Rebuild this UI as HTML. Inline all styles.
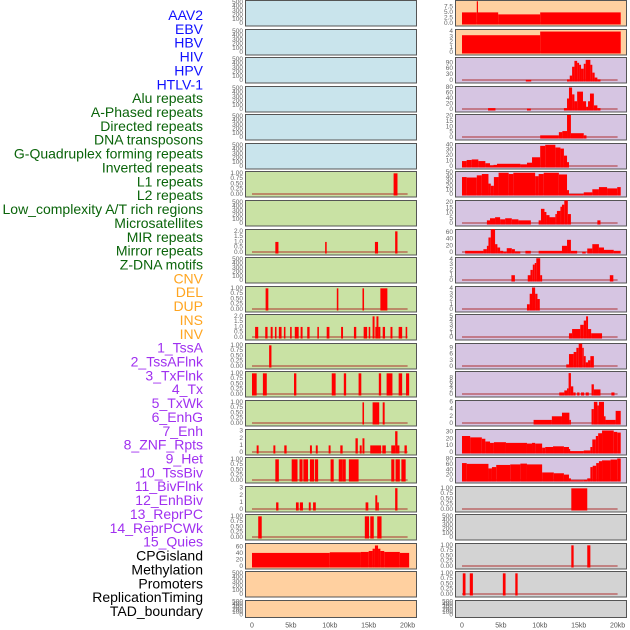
<!DOCTYPE html>
<html><head><meta charset="utf-8"><style>
html,body{margin:0;padding:0;background:#fff;}
svg{display:block;font-family:"Liberation Sans",sans-serif;}
</style></head><body>
<svg id="chart" width="630" height="630" viewBox="0 0 630 630"></svg>
<script>
const labels = ["AAV2","EBV","HBV","HIV","HPV","HTLV-1","Alu repeats","A-Phased repeats","Directed repeats","DNA transposons","G-Quadruplex forming repeats","Inverted repeats","L1 repeats","L2 repeats","Low_complexity A/T rich regions","Microsatellites","MIR repeats","Mirror repeats","Z-DNA motifs","CNV","DEL","DUP","INS","INV","1_TssA","2_TssAFlnk","3_TxFlnk","4_Tx","5_TxWk","6_EnhG","7_Enh","8_ZNF_Rpts","9_Het","10_TssBiv","11_BivFlnk","12_EnhBiv","13_ReprPC","14_ReprPCWk","15_Quies","CPGisland","Methylation","Promoters","ReplicationTiming","TAD_boundary"];
const labelGroups = [0,0,0,0,0,0,1,1,1,1,1,1,1,1,1,1,1,1,1,2,2,2,2,2,3,3,3,3,3,3,3,3,3,3,3,3,3,3,3,4,4,4,4,4];
const xTickLabels = ["0","5kb","10kb","15kb","20kb"];
const xTickValues = [0,5,10,15,20];

const tEmpty=[0,100,200,300,400,500], tBin=[0,0.25,0.5,0.75,1], tBinLbl=["0.00","0.25","0.50","0.75","1.00"];
const t2=[0,0.5,1,1.5,2], t2Lbl=["0.0","0.5","1.0","1.5","2.0"];

const leftBg = ["b","b","b","b","b","b","g","g","g","g","g","g","g","g","g","g","g","g","g","o","o","o"];
const rightBg = ["o","o","p","p","p","p","p","p","p","p","p","p","p","p","p","p","p","g2","g2","g2","g2","g2"];

const L6=[[18.2,18.7,1]];
const L8=[[3.0,3.4,1],[9.4,9.6,1],[15.8,16.2,1],[18.4,18.7,2]];
const L10=[[1.75,2.1,1],[10.9,11.1,1],[14.2,14.4,1],[16.5,17.4,1]];
const L11=[[0.4,0.8,1],[1.7,2.0,1],[2.4,2.65,1],[2.95,3.15,1],[3.45,3.8,1],[4.1,4.3,1],[4.9,5.1,1],[5.5,6.0,1],[6.25,6.5,1],[7.1,7.4,1],[8.4,8.6,1],[9.6,9.95,1],[11.45,11.7,1],[13.1,13.4,1],[14.35,14.8,1],[15.0,15.2,1],[15.5,15.75,2],[15.85,15.95,1],[16.0,16.25,2],[16.25,16.5,1],[16.8,17.1,1],[17.8,18.05,1],[18.85,19.3,1],[19.75,19.95,1]];
const L12=[[2.2,2.5,1]];
const L13=[[0,0.6,1],[1.4,1.9,1],[5.4,5.7,1],[10.25,10.75,1],[11.8,12.1,1],[13.7,14.05,1],[16.3,16.6,1],[17.3,18.05,1],[18.85,19.3,1],[19.8,20.2,1]];
const L14=[[14.2,14.4,1],[15.5,16.35,1],[16.8,17.05,1]];
const L15=[[0.6,0.85,1],[2.75,3.0,1],[4.15,4.45,1],[7.45,7.7,1],[8.2,8.45,1],[9.85,10.1,1],[11.35,11.65,1],[13.3,13.6,2],[13.85,14.1,1],[14.2,14.45,2],[15.2,15.55,1],[15.55,16.6,1],[16.75,17.2,1],[17.9,18.4,1],[18.4,18.7,3],[18.7,18.95,1],[19.6,19.9,1]];
const L16=[[3.0,3.45,1],[5.1,5.85,1],[6.1,6.5,1],[6.6,7.2,1],[7.45,8.0,1],[8.1,8.5,1],[10.1,10.5,1],[11.15,11.6,1],[11.6,12.05,1],[12.45,13.7,1],[17.9,18.3,1],[18.45,19.0,1],[19.2,19.75,1]];
const L17=[[3.1,3.4,1],[5.65,6.0,1],[6.15,6.55,1],[7.3,7.55,1],[7.85,8.2,1],[14.6,14.95,1],[15.85,16.1,2],[16.1,16.3,1],[18.4,18.7,3]];
const L18=[[0.8,1.25,1],[14.5,15.05,1],[15.2,15.65,1],[16.1,16.65,1]];
const L19=[[0,10,42],[10,14,44],[14,15,45],[15,15.5,48],[15.5,15.8,55],[15.8,16.2,65],[16.2,16.5,55],[16.5,17,48],[17,19,45],[19,20.2,42]];

const R0=[[0,1.9,5],[1.9,2.05,10],[2.05,4.65,5],[4.65,10.05,4.1],[10.05,20.4,5]];
const R1=[[0,10.05,3.3],[10.05,20.4,4]];
const R2=[[8.2,8.9,3],[13.5,13.85,5],[13.85,14.15,25],[14.15,14.45,70],[14.45,14.8,100],[14.8,15.05,90],[15.05,15.3,80],[15.3,15.65,60],[15.65,15.9,85],[15.9,16.5,105],[16.5,16.75,80],[16.75,17.05,40],[17.05,17.4,15],[17.4,17.8,5]];
const R3=[[3.35,4.3,5],[8.35,8.85,3],[13.1,13.5,5],[13.5,13.75,40],[13.75,14.15,80],[14.15,14.45,55],[14.45,14.8,30],[14.8,15.55,65],[15.55,15.95,30],[15.95,16.2,10],[16.2,16.45,30],[16.45,16.95,58],[16.95,17.4,15],[17.4,17.8,5]];
const R4=[[10.05,12.45,2],[12.45,12.9,5],[12.9,13.5,6],[13.5,14.0,21],[14.0,15.65,4],[15.65,16.0,2]];
const R5=[[0,0.6,10],[0.6,1.25,12],[1.25,2.1,13],[2.1,3.0,10],[3.0,3.6,6],[3.6,4.05,2],[4.05,4.5,3],[4.5,7.5,5],[7.5,8.35,4],[8.35,9.0,7],[9.0,10.05,17],[10.05,10.7,38],[10.7,12.0,40],[12.0,12.65,35],[12.65,13.1,33],[13.1,13.5,20],[13.5,13.75,8]];
const R6=[[0,0.6,40],[0.6,1.9,39],[1.9,2.55,44],[2.55,3.4,47],[3.4,3.7,25],[3.7,4.1,20],[4.1,4.7,40],[4.7,6.0,50],[6.0,6.6,47],[6.6,9.4,50],[9.4,9.85,42],[9.85,10.5,47],[10.5,12.45,50],[12.45,13.5,46],[13.5,13.75,10],[13.75,15.65,1],[15.65,16.75,5],[16.75,17.6,12],[17.6,18.65,17],[18.65,19.95,14],[19.95,20.4,17]];
const R7=[[3.2,3.6,3],[3.6,4.25,5],[4.25,4.9,6],[4.9,5.55,4],[5.55,6.4,5],[6.4,7.25,4],[7.25,8.85,3],[9.85,10.15,3],[10.15,10.6,14],[10.6,10.85,11],[10.85,11.25,8],[11.25,12.0,6],[12.0,12.2,9],[12.2,12.65,12],[12.65,12.85,16],[12.85,13.15,18],[13.15,13.6,22],[13.6,14.0,9],[17.4,17.8,3]];
const R8=[[0.4,2.75,5],[2.75,3.2,10],[3.2,3.4,20],[3.4,3.7,45],[3.7,4.25,70],[4.25,4.55,25],[4.55,4.9,15],[4.9,5.3,5],[5.3,5.75,2],[5.75,6.4,13],[6.4,6.8,10],[6.8,7.5,3],[8.15,8.85,5],[9.85,12.85,5],[12.85,13.5,20],[13.5,14.0,38],[14.0,14.8,5],[15.45,15.9,2],[16.1,16.75,12],[16.75,17.6,25],[17.6,18.25,15],[18.25,19.5,8],[19.5,20.4,5]];
const R9=[[6.35,6.8,1],[8.45,8.8,1],[8.8,9.1,2],[9.1,9.35,3],[9.35,9.55,3.3],[9.55,10.05,4.2],[10.05,10.3,1],[19.0,19.45,1]];
const R10=[[8.35,8.7,1],[8.7,9.0,3],[9.0,9.4,4.2],[9.4,9.7,3],[9.7,10.0,2]];
const R11=[[13.75,14.15,1],[14.15,15.2,2],[15.2,15.65,3],[15.65,15.95,4],[15.95,16.2,5],[16.2,16.6,2],[16.6,18.0,1]];
const R12=[[13.4,13.75,1],[13.75,14.35,6],[14.35,14.7,7],[14.7,15.0,9],[15.0,15.45,11],[15.45,15.65,9],[15.65,15.9,5],[15.9,16.2,2],[16.2,16.5,3],[16.5,16.95,5]];
const R13=[[12.5,13.15,1],[13.15,13.5,2],[13.5,13.7,3],[13.7,14.0,10.5],[14.0,14.3,4],[14.3,14.6,1],[14.8,15.1,1],[15.3,15.7,1],[15.9,16.3,1],[16.65,16.95,5],[16.95,17.8,2.5],[19.2,19.6,1]];
const R14=[[9.2,11.55,1],[11.55,12.85,2],[12.85,13.8,3],[13.8,14.0,1],[16.65,16.95,4],[16.95,17.4,6],[17.4,17.6,5],[17.6,18.25,6],[18.25,18.45,2],[18.45,19.75,1],[19.75,20.4,3.5]];
const R15=[[0,1.05,24],[1.05,2.55,22],[2.55,3.0,20],[3.0,3.6,16],[3.6,4.1,14],[4.1,5.65,15],[5.65,8.35,14],[8.35,9.0,13],[9.0,9.4,14],[9.4,10.3,13],[10.3,10.7,7],[10.7,11.7,8],[11.7,13.1,9],[13.1,13.75,8],[13.75,13.85,5],[13.85,15.65,2],[15.65,16.5,3],[16.5,16.75,8],[16.75,17.2,19],[17.2,17.5,24],[17.5,18.0,28],[18.0,19.5,32],[19.5,19.95,30],[19.95,20.4,29]];
const R16=[[0,0.6,65],[0.6,3.4,62],[3.4,3.85,45],[3.85,4.4,50],[4.4,6.2,58],[6.2,7.5,60],[7.5,8.35,63],[8.35,10.3,60],[10.3,11.8,30],[11.8,13.1,27],[13.1,13.75,22],[13.75,14.0,8],[14.0,15.65,1],[15.65,16.1,2],[16.1,16.5,8],[16.5,16.8,50],[16.8,17.25,55],[17.25,17.6,65],[17.6,18.0,72],[18.0,19.1,75],[19.1,19.95,78],[19.95,20.4,82]];
const R17=[[14.05,16.1,1]];
const R19=[[14.05,14.35,1],[16.1,16.5,1]];
const R20=[[0.1,0.45,1],[1.0,1.4,1],[5.25,5.6,1],[6.85,7.15,1]];

const E=[[],tEmpty,null,520], B=(s)=>[s,tBin,tBinLbl,1.04];
const leftPanels=[E,E,E,E,E,E,B(L6),E,[L8,t2,t2Lbl,2.08],E,B(L10),[L11,t2,t2Lbl,2.08],B(L12),B(L13),B(L14),[L15,[0,1,2,3],null,3.1],B(L16),[L17,[0,1,2,3],null,3.1],B(L18),[L19,[0,20,40,60],null,68],E,E];
const rightPanels=[[R0,[0,2.5,5,7.5],["0.0","2.5","5.0","7.5"],9.9],[R1,[0,1,2,3,4],null,4.2],[R2,[0,30,60,90],null,112],[R3,[0,20,40,60,80],null,80],[R4,[0,5,10,15,20],null,20.5],[R5,[0,10,20,30,40],null,40.5],[R6,[0,10,20,30,40,50],null,50.5],[R7,[0,5,10,15,20],null,21],[R8,[0,20,40,60],null,66],[R9,[0,1,2,3,4],null,4.15],[R10,[0,1,2,3,4],null,4.2],[R11,[0,1,2,3,4,5],null,5.2],[R12,[0,3,6,9],null,10.6],[R13,[0,2,4,6,8],null,10.8],[R14,[0,2,4,6],null,6.1],[R15,[0,10,20,30],null,32],[R16,[0,20,40,60,80],null,82],B(R17),E,B(R19),B(R20),E];

const NS="http://www.w3.org/2000/svg";
const svg=document.getElementById('chart');
const bgColors={b:"#c9e4ec",g:"#c9e2a4",o:"#ffd0a0",p:"#d6c5e2",g2:"#d3d3d3"};
const groupColors=["#1010ff","#0a640a","#ffa520","#a030f0","#000000"];
function mk(tag,attrs,parent){const e=document.createElementNS(NS,tag);for(const k in attrs)e.setAttribute(k,attrs[k]);(parent||svg).appendChild(e);return e;}

labels.forEach((t,i)=>{
  const e=mk('text',{x:203,y:15+i*13.86,'text-anchor':'end','dominant-baseline':'central','font-size':14,fill:groupColors[labelGroups[i]]});
  
  
  e.textContent=t;
});

function xScale(px0,kb){return px0+7+kb*7.78;}
function drawPanel(px0,row,p,bg,side){
  const top=Math.round(row*28.57), h=row===21?17:25.5, w=171;
  const g=mk('g',{});
  
  
  const r=mk('rect',{x:px0+0.5,y:top+0.5,width:w,height:h,fill:bgColors[bg],stroke:'#555','stroke-width':1},g);
  
  
  const y0=top+h-2, yT=top+1.5;
  const yS=v=>y0-v/p[3]*(y0-yT);
  p[1].forEach((tv,k)=>{
    const t=mk('text',{x:px0-2,y:yS(tv),'text-anchor':'end','dominant-baseline':'central','font-size':6.5,fill:'#666'},g);
    
    
    t.textContent=p[2]?p[2][k]:String(tv);
  });
  if(p[0].length){
    const bl=mk('line',{x1:xScale(px0,0),x2:xScale(px0,20),y1:y0-0.5,y2:y0-0.5,stroke:'rgba(170,30,30,0.45)','stroke-width':2},g);
    
    
  }
  p[0].forEach(s=>{
    const x1=xScale(px0,s[0]), x2=xScale(px0,s[1]), yv=yS(s[2]);
    const b=mk('rect',{x:x1,y:yv,width:Math.max(1.2,x2-x1),height:y0+1-yv,fill:'#ff0000'},g);
    
    
  });
}
leftPanels.forEach((p,i)=>drawPanel(245,i,p,leftBg[i],'left'));
rightPanels.forEach((p,i)=>drawPanel(455,i,p,rightBg[i],'right'));
[245,455].forEach(px0=>{
  xTickValues.forEach((v,k)=>{
    const t=mk('text',{x:xScale(px0,v),y:626,'text-anchor':'middle','dominant-baseline':'central','font-size':7,fill:'#555'});
    
    
    t.textContent=xTickLabels[k];
  });
});
</script>
</body></html>
